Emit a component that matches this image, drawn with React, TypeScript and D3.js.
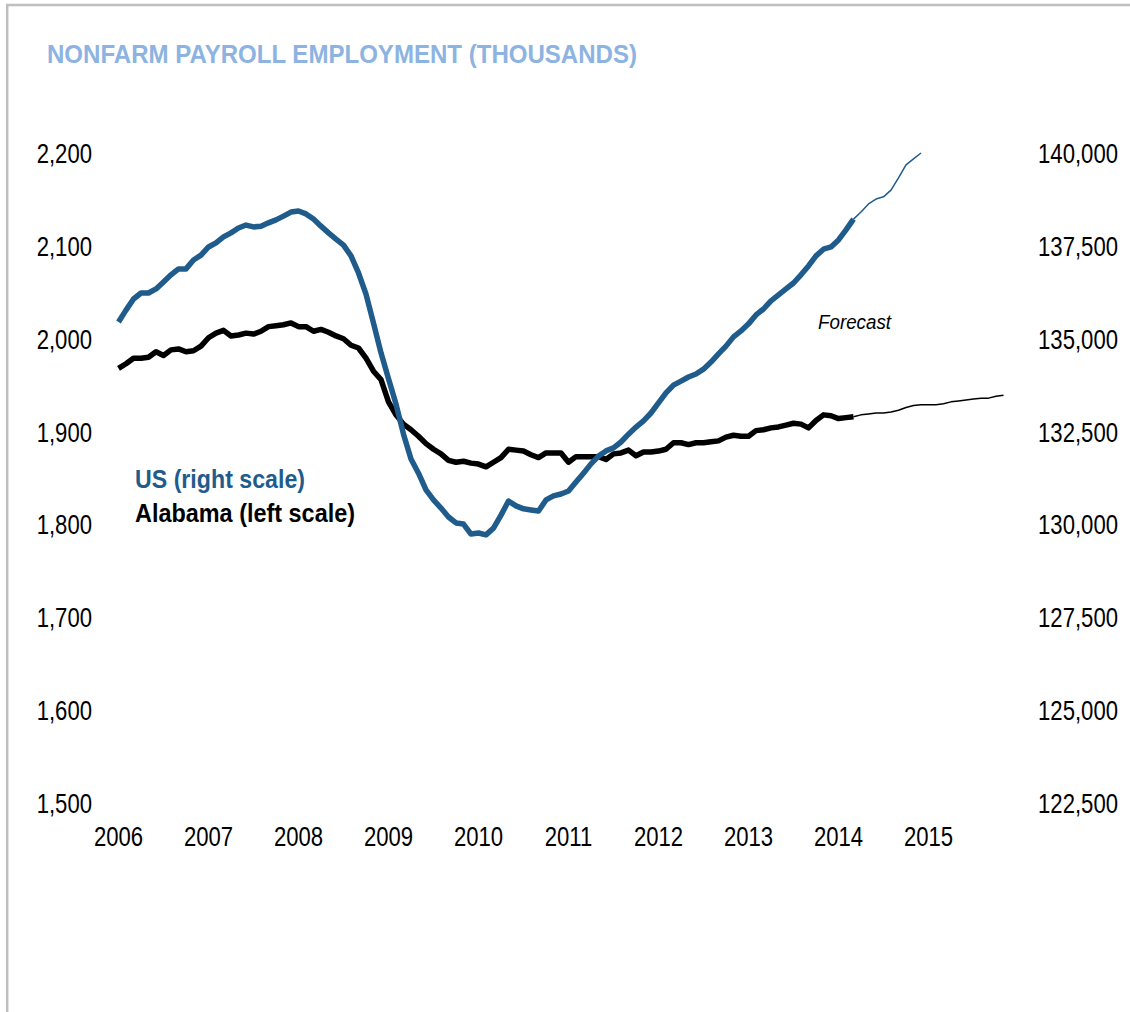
import React from "react";
import * as d3 from "d3";

// Monthly data starting Jan 2006 (thousands)
const startYear = 2006;
const yearLabels = ["2006", "2007", "2008", "2009", "2010", "2011", "2012", "2013", "2014", "2015"];
const leftTicks = [1500, 1600, 1700, 1800, 1900, 2000, 2100, 2200];
const rightTicks = [122500, 125000, 127500, 130000, 132500, 135000, 137500, 140000];

const usActual = [
  135450, 135770, 136070, 136230, 136230, 136340, 136530, 136720, 136880, 136880, 137120, 137250,
  137470, 137580, 137740, 137850, 137980, 138060, 138010, 138030, 138120, 138200, 138300, 138410,
  138440, 138360, 138220, 138030, 137850, 137680, 137520, 137230, 136770, 136200, 135420, 134620,
  133920, 133240, 132430, 131760, 131380, 130930, 130660, 130440, 130200, 130040, 130010, 129740,
  129770, 129720, 129900, 130250, 130630, 130500, 130420, 130390, 130360, 130660, 130770, 130820,
  130900, 131140, 131380, 131630, 131840, 131980, 132060, 132220, 132430, 132620, 132790, 133000,
  133270, 133540, 133750, 133860, 133970, 134050, 134180, 134370, 134590, 134800, 135050, 135210,
  135400, 135640, 135800, 136020, 136180, 136340, 136500, 136720, 136960, 137230, 137410, 137470,
  137660, 137930, 138220,
];
const usForecast = [138220, 138410, 138630, 138760, 138820, 139000, 139330, 139680, 139840, 140000];

const alActual = [
  1968, 1973, 1979, 1979, 1980, 1986, 1982, 1988, 1989, 1986, 1987, 1992,
  2001, 2006, 2009, 2003, 2004, 2006, 2005, 2008, 2013, 2014, 2015, 2017,
  2013, 2013, 2008, 2010, 2007, 2003, 2000, 1993, 1990, 1979, 1965, 1956,
  1932, 1918, 1908, 1902, 1895, 1887, 1881, 1876, 1869, 1867, 1868, 1866,
  1865, 1862, 1867, 1872, 1881, 1880, 1879, 1875, 1872, 1877, 1877, 1877,
  1867, 1873, 1873, 1873, 1873, 1870, 1876, 1877, 1880, 1874, 1878, 1878,
  1879, 1881, 1888, 1888, 1886, 1888, 1888, 1889, 1890, 1894, 1896, 1895,
  1895, 1901, 1902, 1904, 1905, 1907, 1909, 1908, 1904, 1912, 1918, 1917,
  1914, 1915, 1916,
];
const alForecast = [
  1916, 1918, 1919, 1920, 1920, 1921, 1923, 1926, 1928, 1929, 1929, 1929,
  1930, 1932, 1933, 1934, 1935, 1936, 1936, 1938, 1939,
];

const FONT = "'Liberation Sans', Arial, Helvetica, sans-serif";
const BLUE = "#1F5C8C";

export default function App() {
  const W = 1130;
  const H = 1012;
  const x = d3.scaleLinear().domain([0, 108]).range([118.5, 928.5]);
  const yL = d3.scaleLinear().domain([1500, 2200]).range([803, 153]);
  const yR = d3.scaleLinear().domain([122500, 140000]).range([803, 153]);
  const fmt = d3.format(",");

  const fcStartUS = usActual.length - 1;
  const fcStartAL = alActual.length - 1;

  const lineUS = d3.line<number>().x((_, i) => x(i)).y((d) => yR(d));
  const lineUSf = d3.line<number>().x((_, i) => x(i + fcStartUS)).y((d) => yR(d));
  const lineAL = d3.line<number>().x((_, i) => x(i)).y((d) => yL(d));
  const lineALf = d3.line<number>().x((_, i) => x(i + fcStartAL)).y((d) => yL(d));

  const sx = 0.79;

  return (
    <svg
      width={W}
      height={H}
      style={{ position: "absolute", left: 0, top: 0, background: "#fff" }}
      fontFamily={FONT}
    >
      <rect x={0} y={0} width={W} height={H} fill="#fff" />
      {/* frame */}
      <line x1={6} y1={5} x2={W} y2={5} stroke="#BFBFBF" strokeWidth={2.5} />
      <line x1={7.2} y1={4} x2={7.2} y2={H} stroke="#BFBFBF" strokeWidth={2.5} />

      {/* title */}
      <text
        x={47}
        y={63}
        fontSize={25}
        fontWeight="bold"
        fill="#8DB3E2"
        textLength={590}
        lengthAdjust="spacingAndGlyphs"
      >
        NONFARM PAYROLL EMPLOYMENT (THOUSANDS)
      </text>

      {/* left axis labels */}
      {leftTicks.map((t) => (
        <g key={"l" + t} transform={`translate(92,${yL(t) + 10}) scale(${sx},1)`}>
          <text x={0} y={0} fontSize={28} textAnchor="end" fill="#000">
            {fmt(t)}
          </text>
        </g>
      ))}

      {/* right axis labels */}
      {rightTicks.map((t) => (
        <g key={"r" + t} transform={`translate(1118,${yR(t) + 10}) scale(${sx},1)`}>
          <text x={0} y={0} fontSize={28} textAnchor="end" fill="#000">
            {fmt(t)}
          </text>
        </g>
      ))}

      {/* x labels */}
      {yearLabels.map((yl, k) => (
        <g key={yl} transform={`translate(${x(k * 12)},846) scale(${sx},1)`}>
          <text x={0} y={0} fontSize={28} textAnchor="middle" fill="#000">
            {yl}
          </text>
        </g>
      ))}

      {/* lines */}
      <path d={lineAL(alActual) || ""} fill="none" stroke="#000" strokeWidth={5.5} strokeLinejoin="round" />
      <path d={lineALf(alForecast) || ""} fill="none" stroke="#000" strokeWidth={1.5} strokeLinejoin="round" />
      <path d={lineUS(usActual) || ""} fill="none" stroke={BLUE} strokeWidth={5.5} strokeLinejoin="round" />
      <path d={lineUSf(usForecast) || ""} fill="none" stroke={BLUE} strokeWidth={1.5} strokeLinejoin="round" />

      {/* legend */}
      <text x={135} y={488} fontSize={25} fontWeight="bold" fill={BLUE} textLength={170} lengthAdjust="spacingAndGlyphs">
        US (right scale)
      </text>
      <text x={135} y={521.5} fontSize={25} fontWeight="bold" fill="#000" textLength={220} lengthAdjust="spacingAndGlyphs">
        Alabama (left scale)
      </text>

      {/* forecast annotation */}
      <text x={818} y={329} fontSize={20} fontStyle="italic" fill="#000" textLength={73} lengthAdjust="spacingAndGlyphs">
        Forecast
      </text>
    </svg>
  );
}
